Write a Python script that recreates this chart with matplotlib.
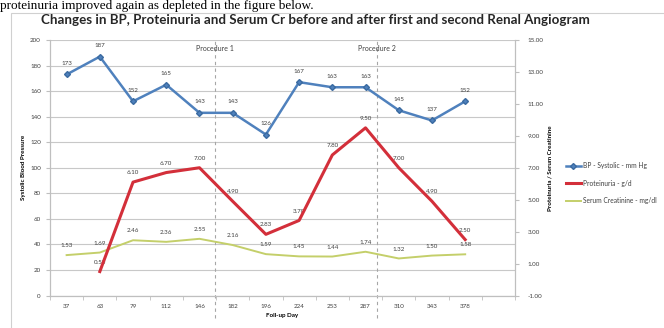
import matplotlib
matplotlib.use("Agg")
import matplotlib.pyplot as plt
from matplotlib.patches import Rectangle
import numpy as np

days = ["37", "63", "79", "112", "146", "182", "196", "224", "253", "287", "310", "343", "378"]
bp_systolic = [173, 187, 152, 165, 143, 143, 126, 167, 163, 163, 145, 137, 152]
proteinuria = [np.nan, 0.50, 6.10, 6.70, 7.00, 4.90, 2.83, 3.70, 7.80, 9.50, 7.00, 4.90, 2.50]
creatinine = [1.53, 1.69, 2.46, 2.36, 2.55, 2.16, 1.59, 1.45, 1.44, 1.74, 1.32, 1.50, 1.58]
procedures = [("Procedure 1", 4.47), ("Procedure 2", 9.35)]

BLUE = "#4f81bd"
RED = "#d32f3a"
GREEN = "#c4cf6a"

plt.rcParams["font.family"] = ["Lato", "DejaVu Sans"]

fig = plt.figure(figsize=(6.64, 3.28), dpi=100)
fig.patch.set_facecolor("white")

# surrounding page text and chart border
fig.text(0.0, 1 - 8.5 / 328, "proteinuria improved again as depleted in the figure below.",
         family="Liberation Serif", fontsize=9.5, va="baseline", ha="left")
fig.patches.append(Rectangle((11 / 664, -0.01), 1.0, 1 - 13 / 328 + 0.01,
                             transform=fig.transFigure, fill=False,
                             edgecolor="#d0d0d0", linewidth=0.8))

ax = fig.add_axes([50 / 664, 1 - 295.5 / 328, 465 / 664, 255.5 / 328])
ax2 = ax.twinx()

x = np.arange(len(days))

# left axis: systolic BP
ax.plot(x, bp_systolic, color=BLUE, lw=1.8, marker="D", ms=3, mfc=BLUE, mec="#3a6aa0",
        label="BP - Systolic - mm Hg", zorder=5)
for xi, v in zip(x, bp_systolic):
    ax.annotate(f"{v}", (xi, v), xytext=(0, 6), textcoords="offset points",
                ha="center", va="bottom", fontsize=4.5, color="#404040")

ax.set_ylim(0, 200)
ax.set_yticks(np.arange(0, 201, 20))
ax.set_xlim(-0.5, 13.5)
ax.set_xticks(x)
ax.set_xticklabels(days)
ax.set_xticks(np.arange(-0.5, 13.6, 1), minor=True)
ax.tick_params(axis="x", which="major", length=0, labelsize=4.5, labelcolor="#404040", pad=6)
ax.tick_params(axis="x", which="minor", length=3, color="#bfbfbf", direction="out")
ax.tick_params(axis="y", length=3, color="#bfbfbf", labelsize=4.5, labelcolor="#404040")
ax.grid(axis="y", color="#c8c8c8", lw=0.8)
ax.set_axisbelow(True)
ax.set_ylabel("Systolic Blood Pressure", fontsize=4.5, fontweight="bold", labelpad=3)
ax.set_xlabel("Foll-up Day", fontsize=4.5, fontweight="bold", labelpad=3)

# right axis: proteinuria and creatinine
ax2.plot(x, proteinuria, color=RED, lw=2.2, label="Proteinuria - g/d", zorder=4)
ax2.plot(x, creatinine, color=GREEN, lw=1.4, label="Serum Creatinine - mg/dl", zorder=3)
for xi, v in zip(x, proteinuria):
    if not np.isnan(v):
        ax2.annotate(f"{v:.2f}", (xi, v), xytext=(0, 5), textcoords="offset points",
                     ha="center", va="bottom", fontsize=4.5, color="#404040")
for xi, v in zip(x, creatinine):
    ax2.annotate(f"{v:.2f}", (xi, v), xytext=(0, 5), textcoords="offset points",
                 ha="center", va="bottom", fontsize=4.5, color="#404040")
ax2.set_ylim(-1, 15)
ax2.set_yticks(np.arange(-1, 15.1, 2))
ax2.set_yticklabels([f"{t:.2f}" for t in np.arange(-1, 15.1, 2)])
ax2.tick_params(axis="y", length=3, color="#bfbfbf", labelsize=4.5, labelcolor="#404040", pad=6)
ax2.set_ylabel("Proteinuria / Serum Creatinine", fontsize=4.5, fontweight="bold", labelpad=3)

for a in (ax, ax2):
    a.spines["top"].set_visible(False)
    for s in ("left", "right", "bottom"):
        a.spines[s].set_color("#bfbfbf")
        a.spines[s].set_linewidth(0.8)

# procedure markers
for name, pos in procedures:
    ax.axvline(pos, ymin=-0.09, ymax=1.0, color="#a6a6a6", lw=0.8, ls=(0, (3, 3)),
               clip_on=False, zorder=1)
    ax.text(pos, 196, name, ha="center", va="top", fontsize=5, color="#404040")

fig.text(315 / 664, 1 - 20 / 328,
         "Changes in BP, Proteinuria and Serum Cr before and after first and second Renal Angiogram",
         ha="center", va="center", fontsize=9.6, fontweight="bold", color="#262626")

h1, l1 = ax.get_legend_handles_labels()
h2, l2 = ax2.get_legend_handles_labels()
fig.legend(h1 + h2, l1 + l2, loc="center left", bbox_to_anchor=(560 / 664, 1 - 183 / 328),
           frameon=False, fontsize=4.8, handlelength=2.2, handletextpad=0.3,
           labelspacing=1.6, labelcolor="#404040")

fig.savefig("out.png", dpi=100)
